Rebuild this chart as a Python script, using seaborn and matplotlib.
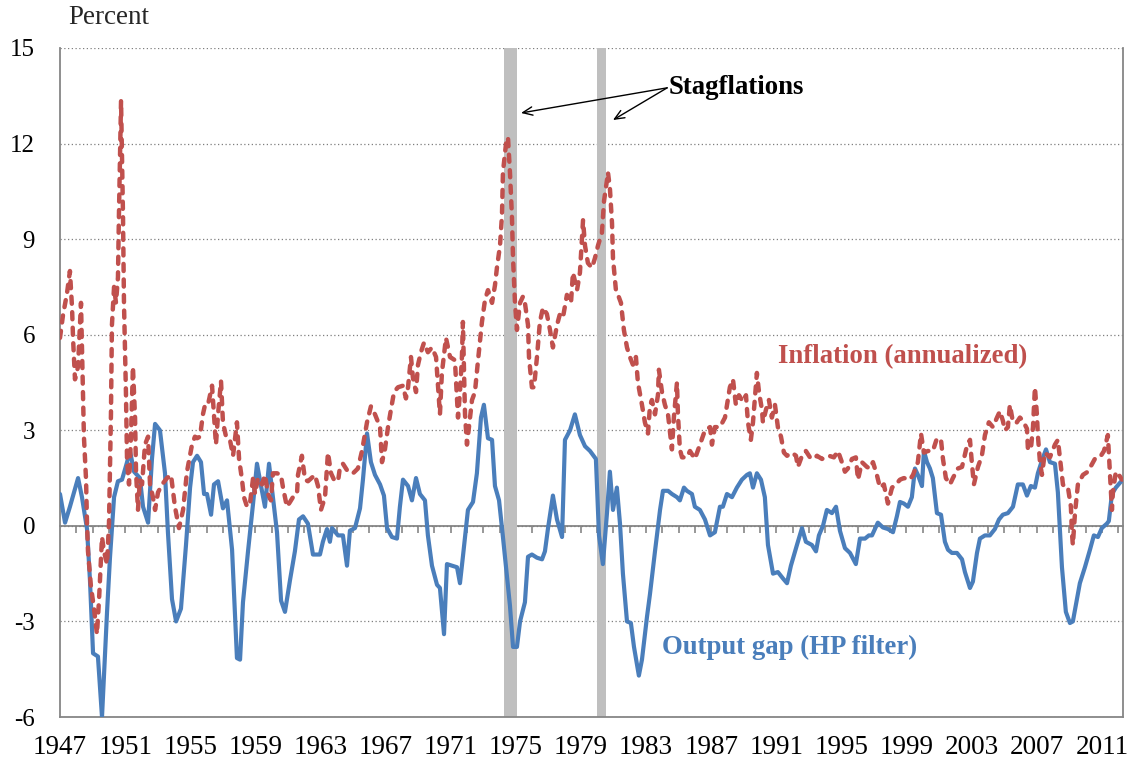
import matplotlib
matplotlib.use("Agg")
import matplotlib.pyplot as plt
import pandas as pd
import seaborn as sns

# ---------------- data ----------------
gap_years = [
    1947.00, 1947.31, 1947.61, 1948.11, 1948.35, 1948.66, 1948.84, 1949.03, 1949.33, 1949.58,
    1949.89, 1950.07, 1950.32, 1950.56, 1950.81, 1951.12, 1951.30, 1951.55, 1951.91, 1952.10,
    1952.41, 1952.65, 1952.84, 1953.14, 1953.45, 1953.63, 1953.88, 1954.13, 1954.43, 1954.74,
    1954.99, 1955.17, 1955.42, 1955.66, 1955.85, 1956.03, 1956.28, 1956.46, 1956.71, 1957.01,
    1957.26, 1957.57, 1957.87, 1958.06, 1958.24, 1958.55, 1958.86, 1959.10, 1959.35, 1959.59,
    1959.84, 1960.08, 1960.33, 1960.58, 1960.82, 1961.13, 1961.43, 1961.68, 1961.93, 1962.23,
    1962.54, 1962.97, 1963.15, 1963.40, 1963.58, 1963.71, 1964.08, 1964.38, 1964.63, 1964.81,
    1965.12, 1965.43, 1965.61, 1965.86, 1966.10, 1966.35, 1966.66, 1966.90, 1967.09, 1967.39,
    1967.70, 1967.88, 1968.07, 1968.38, 1968.62, 1968.87, 1969.11, 1969.42, 1969.60, 1969.85,
    1970.16, 1970.34, 1970.59, 1970.77, 1971.08, 1971.39, 1971.57, 1971.75, 1972.06, 1972.37,
    1972.61, 1972.86, 1973.04, 1973.29, 1973.54, 1973.72, 1973.97, 1974.21, 1974.46, 1974.64,
    1974.83, 1975.07, 1975.26, 1975.56, 1975.75, 1975.99, 1976.30, 1976.61, 1976.79, 1976.98,
    1977.28, 1977.53, 1977.84, 1978.02, 1978.33, 1978.63, 1978.94, 1979.25, 1979.56, 1979.92,
    1980.11, 1980.35, 1980.60, 1980.78, 1980.97, 1981.21, 1981.40, 1981.58, 1981.83, 1982.07,
    1982.26, 1982.56, 1982.75, 1983.06, 1983.24, 1983.55, 1983.86, 1984.04, 1984.35, 1984.59,
    1984.90, 1985.08, 1985.33, 1985.51, 1985.82, 1986.00, 1986.31, 1986.62, 1986.93, 1987.23,
    1987.54, 1987.72, 1987.97, 1988.28, 1988.58, 1988.89, 1989.20, 1989.38, 1989.57, 1989.81,
    1990.06, 1990.30, 1990.49, 1990.80, 1991.10, 1991.41, 1991.66, 1991.90, 1992.27, 1992.58,
    1992.82, 1993.19, 1993.44, 1993.62, 1993.87, 1994.11, 1994.42, 1994.67, 1994.91, 1995.22,
    1995.53, 1995.89, 1996.14, 1996.45, 1996.69, 1996.88, 1997.24, 1997.55, 1997.86, 1998.17,
    1998.41, 1998.60, 1998.84, 1999.09, 1999.33, 1999.52, 1999.70, 1999.95, 2000.07, 2000.26,
    2000.44, 2000.62, 2000.87, 2001.12, 2001.36, 2001.55, 2001.79, 2002.10, 2002.41, 2002.59,
    2002.90, 2003.08, 2003.33, 2003.51, 2003.82, 2004.12, 2004.43, 2004.68, 2004.92, 2005.23,
    2005.54, 2005.84, 2006.15, 2006.40, 2006.64, 2006.89, 2007.07, 2007.32, 2007.57, 2007.81,
    2008.12, 2008.30, 2008.55, 2008.79, 2009.04, 2009.22, 2009.47, 2009.65, 2009.96, 2010.27,
    2010.51, 2010.76, 2011.00, 2011.31, 2011.43, 2011.62, 2011.86, 2012.11, 2012.29,
]
gap_values = [
    1.0, 0.1, 0.6, 1.5, 0.9, -0.1, -1.7, -4.0, -4.1, -6.0,
    -2.7, -1.0, 0.9, 1.4, 1.45, 2.0, 2.35, 1.7, 1.5, 0.6,
    0.1, 2.1, 3.2, 3.0, 1.65, -0.2, -2.3, -3.0, -2.6, -0.6,
    1.2, 2.0, 2.2, 2.0, 1.0, 1.0, 0.35, 1.3, 1.4, 0.55,
    0.8, -0.75, -4.15, -4.2, -2.4, -0.8, 0.7, 1.95, 1.25, 0.6,
    1.95, 0.9, -0.2, -2.35, -2.7, -1.7, -0.8, 0.2, 0.3, 0.07,
    -0.9, -0.9, -0.5, -0.1, -0.5, -0.07, -0.3, -0.3, -1.25, -0.15,
    -0.07, 0.55, 1.45, 2.9, 2.0, 1.6, 1.3, 0.95, -0.07, -0.35,
    -0.4, 0.6, 1.45, 1.25, 0.8, 1.5, 1.0, 0.8, -0.3, -1.25,
    -1.85, -1.95, -3.4, -1.2, -1.25, -1.3, -1.8, -0.97, 0.5, 0.75,
    1.65, 3.4, 3.8, 2.75, 2.7, 1.25, 0.8, -0.35, -1.6, -2.5,
    -3.8, -3.8, -3.0, -2.4, -0.97, -0.9, -1.0, -1.05, -0.8, -0.07,
    0.95, 0.2, -0.35, 2.7, 3.0, 3.5, 2.85, 2.5, 2.35, 2.1,
    -0.3, -1.2, 0.4, 1.7, 0.5, 1.2, 0.07, -1.5, -3.0, -3.05,
    -3.8, -4.7, -4.2, -2.85, -2.15, -0.8, 0.5, 1.1, 1.1, 1.0,
    0.9, 0.8, 1.2, 1.1, 1.0, 0.6, 0.5, 0.2, -0.3, -0.2,
    0.6, 0.6, 1.0, 0.9, 1.2, 1.45, 1.6, 1.65, 1.2, 1.65,
    1.45, 0.9, -0.6, -1.5, -1.45, -1.65, -1.8, -1.25, -0.6, -0.07,
    -0.5, -0.6, -0.8, -0.3, 0.0, 0.5, 0.4, 0.6, -0.15, -0.7,
    -0.85, -1.2, -0.4, -0.4, -0.3, -0.3, 0.1, -0.05, -0.1, -0.2,
    0.3, 0.75, 0.7, 0.6, 0.9, 1.8, 1.6, 1.25, 2.35, 2.0,
    1.8, 1.5, 0.4, 0.35, -0.5, -0.75, -0.85, -0.85, -1.05, -1.45,
    -1.95, -1.75, -0.85, -0.4, -0.3, -0.3, -0.1, 0.2, 0.35, 0.4,
    0.6, 1.3, 1.3, 0.95, 1.25, 1.2, 1.65, 2.05, 2.4, 2.0,
    1.95, 1.05, -1.3, -2.7, -3.05, -3.0, -2.3, -1.8, -1.3, -0.75,
    -0.3, -0.35, -0.07, 0.07, 0.15, 1.0, 1.2, 1.35, 1.45,
]

infl_years = [
    1947.00, 1947.18, 1947.43, 1947.61, 1947.74, 1947.80, 1947.92, 1948.11, 1948.17, 1948.29,
    1948.35, 1948.41, 1948.47, 1948.60, 1948.66, 1948.72, 1948.90, 1949.09, 1949.27, 1949.40,
    1949.58, 1949.70, 1949.89, 1950.01, 1950.13, 1950.19, 1950.32, 1950.44, 1950.56, 1950.62,
    1950.75, 1950.87, 1950.93, 1951.05, 1951.12, 1951.24, 1951.36, 1951.48, 1951.61, 1951.67,
    1951.79, 1951.91, 1952.04, 1952.22, 1952.41, 1952.53, 1952.71, 1952.84, 1953.02, 1953.27,
    1953.57, 1953.82, 1954.06, 1954.31, 1954.56, 1954.80, 1955.11, 1955.29, 1955.42, 1955.60,
    1955.78, 1955.91, 1956.09, 1956.34, 1956.46, 1956.58, 1956.71, 1956.89, 1957.01, 1957.20,
    1957.44, 1957.63, 1957.87, 1958.00, 1958.18, 1958.30, 1958.49, 1958.67, 1958.86, 1958.98,
    1959.16, 1959.41, 1959.59, 1959.78, 1959.96, 1960.08, 1960.33, 1960.57, 1960.70, 1960.94,
    1961.13, 1961.31, 1961.56, 1961.62, 1961.86, 1962.05, 1962.23, 1962.66, 1962.85, 1963.03,
    1963.28, 1963.46, 1963.65, 1963.83, 1964.08, 1964.20, 1964.38, 1964.69, 1965.00, 1965.30,
    1965.55, 1965.86, 1966.10, 1966.35, 1966.66, 1966.78, 1966.96, 1967.15, 1967.33, 1967.52,
    1967.76, 1968.07, 1968.25, 1968.38, 1968.56, 1968.68, 1968.87, 1968.99, 1969.17, 1969.36,
    1969.60, 1969.85, 1970.10, 1970.34, 1970.46, 1970.71, 1970.96, 1971.26, 1971.45, 1971.57,
    1971.69, 1971.75, 1971.88, 1972.00, 1972.12, 1972.31, 1972.49, 1972.68, 1972.92, 1973.11,
    1973.29, 1973.54, 1973.72, 1973.84, 1974.03, 1974.15, 1974.21, 1974.40, 1974.52, 1974.64,
    1974.76, 1974.83, 1974.95, 1975.07, 1975.26, 1975.44, 1975.56, 1975.75, 1975.81, 1975.99,
    1976.12, 1976.30, 1976.48, 1976.67, 1976.91, 1977.10, 1977.28, 1977.53, 1977.71, 1977.90,
    1978.14, 1978.39, 1978.51, 1978.76, 1978.94, 1979.13, 1979.25, 1979.43, 1979.68, 1979.86,
    1980.05, 1980.29, 1980.42, 1980.60, 1980.66, 1980.78, 1980.91, 1980.97, 1981.15, 1981.28,
    1981.46, 1981.64, 1981.83, 1982.01, 1982.20, 1982.38, 1982.50, 1982.75, 1982.93, 1983.12,
    1983.24, 1983.36, 1983.55, 1983.73, 1983.79, 1983.98, 1984.16, 1984.35, 1984.59, 1984.71,
    1984.90, 1984.96, 1985.08, 1985.21, 1985.51, 1985.70, 1986.00, 1986.31, 1986.62, 1986.93,
    1987.05, 1987.23, 1987.54, 1987.85, 1988.15, 1988.34, 1988.52, 1988.71, 1988.95, 1989.14,
    1989.26, 1989.44, 1989.57, 1989.81, 1989.94, 1990.12, 1990.18, 1990.37, 1990.55, 1990.73,
    1990.92, 1991.10, 1991.29, 1991.47, 1991.66, 1991.96, 1992.21, 1992.33, 1992.58, 1992.82,
    1993.07, 1993.31, 1993.50, 1993.81, 1993.99, 1994.24, 1994.54, 1994.79, 1995.03, 1995.22,
    1995.40, 1995.65, 1995.89, 1996.02, 1996.26, 1996.57, 1996.75, 1996.94, 1997.18, 1997.37,
    1997.61, 1997.86, 1998.11, 1998.35, 1998.60, 1998.84, 1999.21, 1999.40, 1999.70, 1999.89,
    2000.07, 2000.32, 2000.62, 2000.87, 2001.12, 2001.24, 2001.42, 2001.67, 2001.85, 2002.16,
    2002.41, 2002.71, 2002.90, 2003.02, 2003.14, 2003.39, 2003.63, 2003.82, 2004.06, 2004.31,
    2004.56, 2004.74, 2004.92, 2005.05, 2005.23, 2005.35, 2005.54, 2005.78, 2005.97, 2006.15,
    2006.40, 2006.46, 2006.64, 2006.77, 2006.89, 2007.01, 2007.07, 2007.20, 2007.32, 2007.50,
    2007.81, 2008.12, 2008.30, 2008.49, 2008.61, 2008.73, 2008.92, 2009.10, 2009.16, 2009.22,
    2009.35, 2009.53, 2009.84, 2010.14, 2010.57, 2010.88, 2011.13, 2011.37, 2011.50, 2011.62,
    2011.68, 2011.86, 2012.05, 2012.23,
]
infl_values = [
    5.9, 6.6, 7.3, 8.0, 6.85, 5.9, 4.6, 5.0, 5.7, 7.0,
    5.6, 4.2, 2.8, 1.45, 0.07, -0.8, -1.9, -2.6, -3.4, -2.3,
    -0.35, -0.8, -1.2, 0.1, 3.5, 6.3, 7.5, 7.0, 7.8, 9.75,
    13.35, 9.75, 7.0, 4.2, 2.0, 1.3, 2.8, 5.0, 3.4, 1.7,
    0.5, 1.45, 1.3, 2.55, 2.8, 1.3, 0.9, 0.5, 1.05, 1.3,
    1.5, 1.6, 0.6, -0.07, 0.5, 1.7, 2.55, 2.8, 2.75, 2.8,
    3.5, 3.8, 3.8, 4.4, 3.5, 2.55, 3.5, 4.55, 3.25, 2.8,
    2.7, 2.2, 3.25, 2.1, 1.45, 0.9, 0.6, 0.7, 1.5, 1.0,
    1.5, 1.3, 1.6, 1.0, 0.8, 1.65, 1.65, 1.6, 1.2, 0.6,
    0.75, 0.9, 1.0, 1.6, 2.2, 1.45, 1.4, 1.6, 1.25, 0.5,
    0.9, 2.3, 1.65, 1.45, 1.4, 1.85, 1.95, 1.7, 1.65, 1.8,
    2.35, 3.25, 3.75, 3.5, 3.1, 2.0, 2.4, 3.1, 3.65, 4.2,
    4.35, 4.4, 4.0, 4.35, 5.3, 4.65, 4.2, 5.05, 5.45, 5.75,
    5.45, 5.6, 5.3, 3.5, 4.8, 5.9, 5.3, 5.2, 3.4, 4.2,
    5.3, 6.4, 3.5, 2.55, 3.1, 3.95, 4.2, 5.2, 6.4, 7.1,
    7.4, 7.0, 7.55, 8.1, 8.8, 9.75, 11.1, 12.0, 12.2, 11.1,
    9.75, 8.4, 7.0, 6.15, 7.0, 7.2, 7.0, 6.3, 5.3, 4.35,
    4.35, 5.3, 6.4, 6.85, 6.65, 6.15, 5.6, 6.3, 6.65, 6.55,
    7.25, 7.0, 7.95, 7.4, 7.95, 9.6, 8.8, 8.25, 8.1, 8.4,
    8.8, 9.2, 10.2, 10.85, 11.1, 10.6, 9.5, 8.4, 7.4, 7.25,
    7.0, 6.15, 5.6, 5.3, 5.05, 5.3, 4.5, 3.8, 3.25, 2.9,
    3.75, 3.95, 3.5, 4.1, 4.9, 4.2, 3.8, 3.5, 2.4, 3.4,
    4.5, 3.5, 2.4, 2.15, 2.15, 2.35, 2.1, 2.55, 3.0, 3.1,
    2.55, 3.1, 3.1, 3.4, 4.35, 4.6, 3.8, 4.1, 3.9, 4.1,
    3.25, 2.7, 3.25, 4.8, 4.2, 3.65, 3.25, 3.65, 3.95, 3.4,
    3.8, 3.1, 2.8, 2.3, 2.2, 2.3, 2.2, 1.85, 2.2, 2.35,
    2.15, 2.1, 2.2, 2.1, 2.15, 2.2, 2.15, 2.35, 2.0, 1.7,
    1.8, 2.1, 2.15, 1.45, 2.0, 1.85, 1.8, 2.0, 1.6, 1.2,
    1.3, 0.7, 1.2, 1.3, 1.45, 1.5, 1.45, 1.6, 2.0, 2.9,
    2.3, 2.35, 2.35, 2.75, 2.7, 2.1, 1.5, 1.3, 1.5, 1.8,
    1.85, 2.5, 2.7, 1.95, 1.3, 1.85, 2.2, 2.85, 3.25, 3.1,
    3.4, 3.6, 3.3, 3.0, 3.1, 3.8, 3.25, 3.25, 3.4, 3.3,
    3.05, 2.4, 2.4, 3.1, 4.35, 3.5, 2.85, 2.0, 1.6, 2.3,
    2.15, 2.55, 2.7, 1.85, 1.3, 1.2, 1.2, 0.6, -0.2, -0.6,
    0.4, 1.3, 1.6, 1.7, 2.1, 2.15, 2.35, 2.85, 1.6, 0.5,
    1.05, 1.7, 1.6, 1.45,
]

stagflation_start = [1974.27, 1979.98]
stagflation_end = [1975.07, 1980.54]
x_tick_years = list(range(1947, 2012, 4))
y_ticks = [-6, -3, 0, 3, 6, 9, 12, 15]

# ---------------- styling ----------------
sns.set_style("white")
plt.rcParams["font.family"] = ["Liberation Serif", "DejaVu Serif"]

BLUE = "#4A7EBB"
RED = "#C0504D"
AXIS_GREY = "#868686"

fig = plt.figure(figsize=(11.35, 7.66), dpi=100)
ax = fig.add_axes([60 / 1135, 1 - 717 / 766, (1123 - 60) / 1135, (717 - 48) / 766])

for a, b in zip(stagflation_start, stagflation_end):
    ax.axvspan(a, b, color="#BFBFBF", lw=0, zorder=1)

gap_df = pd.DataFrame({"year": gap_years, "gap": gap_values})
infl_df = pd.DataFrame({"year": infl_years, "inflation": infl_values})

sns.lineplot(data=gap_df, x="year", y="gap", ax=ax, color=BLUE, lw=3.0,
             estimator=None, zorder=3)
sns.lineplot(data=infl_df, x="year", y="inflation", ax=ax, color=RED, lw=3.2,
             estimator=None, zorder=4)
red_line = ax.lines[-1]
red_line.set_dashes((1.6, 1.9))
red_line.set_dash_capstyle("round")
ax.lines[0].set_solid_joinstyle("round")

ax.set_xlim(1947, 2012.3)
ax.set_ylim(-6, 15)
ax.set_xlabel("")
ax.set_ylabel("")
ax.set_yticks(y_ticks)
ax.set_yticklabels([str(v) for v in y_ticks])
ax.set_xticks(x_tick_years)
ax.set_xticklabels([str(v) for v in x_tick_years])
ax.tick_params(axis="both", length=0, colors="black")
ax.tick_params(axis="y", pad=18, labelsize=18)
ax.tick_params(axis="x", pad=13, labelsize=19.5)

ax.grid(axis="y", linestyle=(0, (1, 2)), color="#7F7F7F", lw=0.9, zorder=0)
ax.grid(axis="x", visible=False)
ax.set_axisbelow(True)

ax.spines["top"].set_visible(False)
for side in ["left", "right", "bottom"]:
    ax.spines[side].set_color(AXIS_GREY)
    ax.spines[side].set_linewidth(1.3)

# horizontal axis line at zero with yearly tick marks
zero_axis = ax.secondary_xaxis(6 / 21)
zero_axis.set_xticks(list(range(1948, 2013)))
zero_axis.tick_params(direction="out", length=5, width=1.2, color=AXIS_GREY,
                      labelbottom=False, labeltop=False)
for side in ["top", "bottom"]:
    zero_axis.spines[side].set_color(AXIS_GREY)
    zero_axis.spines[side].set_linewidth(1.3)

# annotations
ax.text(1984.4, 13.75, "Stagflations", fontsize=19.3, fontweight="bold",
        ha="left", va="center", color="black")
arrow_style = dict(arrowstyle="->,head_length=0.7,head_width=0.3", color="black",
                   lw=1.0, shrinkA=0, shrinkB=0)
ax.annotate("", xy=(1975.32, 12.96), xytext=(1984.3, 13.75), arrowprops=arrow_style)
ax.annotate("", xy=(1980.97, 12.74), xytext=(1984.3, 13.75), arrowprops=arrow_style)

ax.text(1991.1, 5.3, "Inflation (annualized)", fontsize=19.3, fontweight="bold",
        ha="left", va="center", color=RED)
ax.text(1984.0, -3.83, "Output gap (HP filter)", fontsize=19.3, fontweight="bold",
        ha="left", va="center", color=BLUE)

fig.text(68 / 1135, 1 - 18 / 766, "Percent", fontsize=19.5, ha="left", va="center")

fig.savefig("out.png", dpi=100)
